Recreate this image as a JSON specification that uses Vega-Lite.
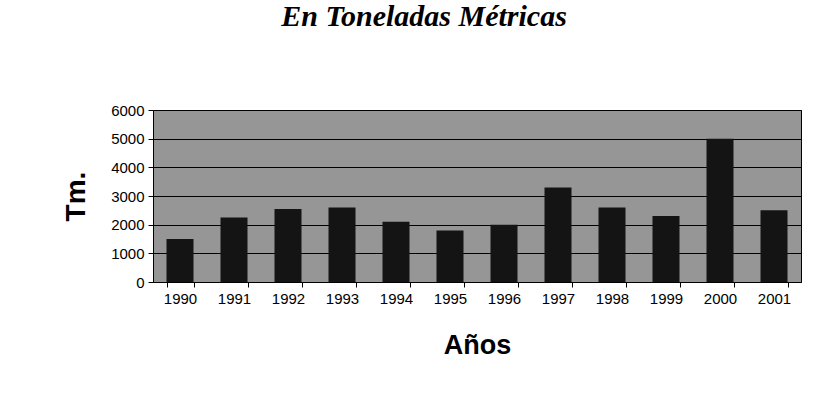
{
  "$schema": "https://vega.github.io/schema/vega-lite/v6.json",
  "width": 648,
  "height": 172,
  "autosize": {"type": "none"},
  "padding": {"left": 153, "top": 110, "right": 33, "bottom": 128},
  "background": "white",
  "title": {
    "text": "En Toneladas Métricas",
    "font": "Liberation Serif",
    "fontSize": 30,
    "fontWeight": "bold",
    "fontStyle": "italic",
    "color": "black",
    "anchor": "middle",
    "frame": "group",
    "offset": 71,
    "dx": -53
  },
  "data": {
    "values": [
      {"Year": "1990", "Tm": 1500},
      {"Year": "1991", "Tm": 2250},
      {"Year": "1992", "Tm": 2550},
      {"Year": "1993", "Tm": 2600},
      {"Year": "1994", "Tm": 2100},
      {"Year": "1995", "Tm": 1800},
      {"Year": "1996", "Tm": 2000},
      {"Year": "1997", "Tm": 3300},
      {"Year": "1998", "Tm": 2600},
      {"Year": "1999", "Tm": 2300},
      {"Year": "2000", "Tm": 5000},
      {"Year": "2001", "Tm": 2500}
    ]
  },
  "mark": {"type": "bar", "color": "#141414"},
  "encoding": {
    "x": {
      "field": "Year",
      "type": "nominal",
      "sort": null,
      "scale": {"paddingInner": 0.5, "paddingOuter": 0.25},
      "axis": {
        "title": "Años",
        "labelAngle": 0,
        "tickBand": "extent",
        "tickSize": 5,
        "labelPadding": 4,
        "titlePadding": 26
      }
    },
    "y": {
      "field": "Tm",
      "type": "quantitative",
      "scale": {"domain": [0, 6000], "nice": false},
      "axis": {
        "title": "Tm.",
        "format": "d",
        "values": [0, 1000, 2000, 3000, 4000, 5000, 6000],
        "grid": true,
        "tickSize": 5,
        "labelPadding": 4,
        "titlePadding": 20
      }
    }
  },
  "config": {
    "view": {"fill": "#969696", "stroke": "black", "strokeWidth": 1},
    "axis": {
      "domainColor": "black",
      "tickColor": "black",
      "gridColor": "black",
      "gridOpacity": 1,
      "gridWidth": 1,
      "labelFont": "Liberation Sans",
      "labelFontSize": 15,
      "labelColor": "black",
      "titleFont": "Liberation Sans",
      "titleFontWeight": "bold",
      "titleColor": "black"
    },
    "axisX": {"titleFontSize": 27},
    "axisY": {"titleFontSize": 28}
  }
}
